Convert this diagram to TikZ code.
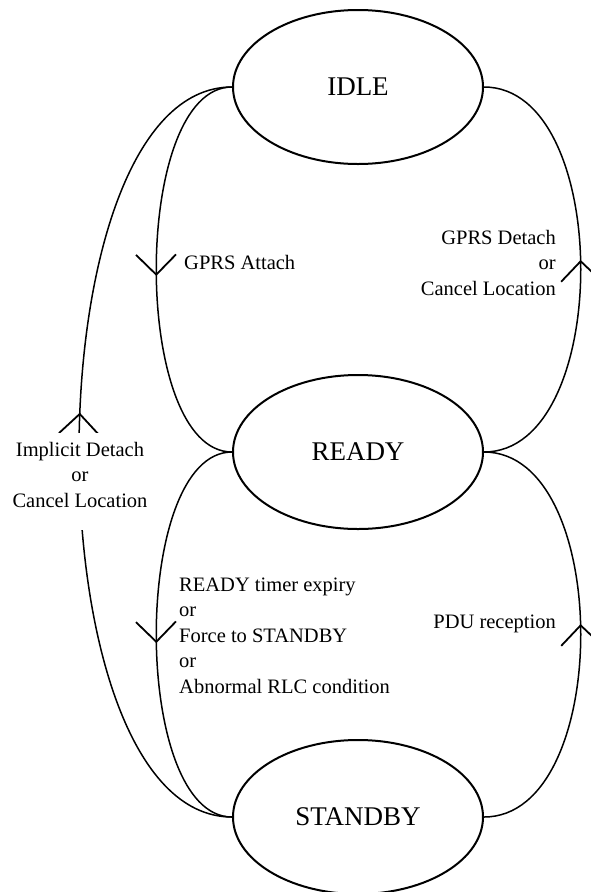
\documentclass[tikz,border=0pt]{standalone}
\usepackage{fontspec}
\setmainfont{Liberation Serif}
\usetikzlibrary{shapes.geometric, arrows.meta, decorations.markings}
\begin{document}
\begin{tikzpicture}[x=1pt, y=-1pt,
  state/.style={ellipse, draw, line width=2pt, minimum width=250pt,
    minimum height=154pt, inner sep=0pt, font=\fontsize{27}{31}\selectfont},
  trans/.style={line width=1.5pt},
  lbl/.style={inner sep=0pt, font=\fontsize{20.5}{25.5}\selectfont},
  tipat/.style={postaction={decorate}, decoration={markings,
    mark=at position #1 with {\arrow{Straight Barb[length=20pt, width=40pt, line width=1.8pt]}}}}
]
\useasboundingbox (0,0) rectangle (590,892);

% states
\node[state] (idle)    at (358,87)  {IDLE};
\node[state] (ready)   at (358,452) {READY};
\node[state] (standby) at (358,817) {STANDBY};

% transitions
\draw[trans, tipat=0.515] (idle.west) .. controls +(-101,0) and +(-101,0) .. (ready.west);
\draw[trans, tipat=0.521] (ready.east) .. controls +(129,0) and +(129,0) .. (idle.east);
\draw[trans, tipat=0.52]  (ready.west) .. controls +(-101,0) and +(-101,0) .. (standby.west);
\draw[trans, tipat=0.523] (standby.east) .. controls +(129,0) and +(129,0) .. (ready.east);
\draw[trans, tipat=0.546] (standby.west) .. controls +(-204,0) and +(-204,0) .. (idle.west);

% transition labels (base of a multi-line node = baseline of its last line)
\node[lbl, anchor=base west] (attachlbl) at (184,269) {GPRS Attach};
\node[lbl, anchor=base east, align=right] (detachlbl) at (556,295)
  {GPRS Detach\\or\\Cancel Location};
\node[lbl, anchor=north, align=center, fill=white, inner xsep=3pt] (implicitlbl) at (80,433)
  {\rule{0pt}{23pt}Implicit Detach\\or\\Cancel Location\rule[-23pt]{0pt}{0pt}};
\node[lbl, anchor=base west, align=left] (standbylbl) at (179,693)
  {READY timer expiry\\or\\Force to STANDBY\\or\\Abnormal RLC condition};
\node[lbl, anchor=base east] (pdulbl) at (556,628) {PDU reception};
\end{tikzpicture}
\end{document}
